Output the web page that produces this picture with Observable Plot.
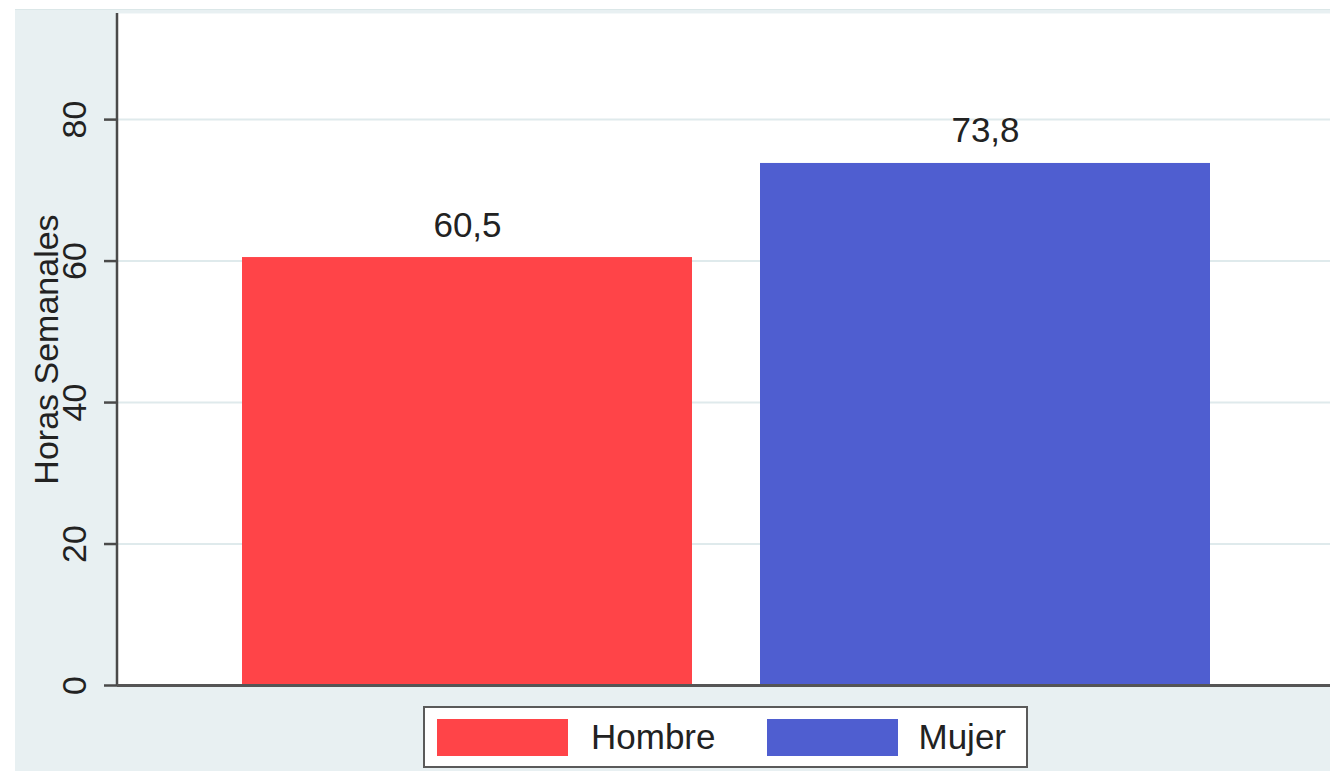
<!DOCTYPE html>
<html>
<head>
<meta charset="utf-8">
<script src="https://cdn.jsdelivr.net/npm/d3@7"></script>
<script src="https://cdn.jsdelivr.net/npm/@observablehq/plot@0.6"></script>
<style>
  html, body { margin: 0; padding: 0; background: #ffffff; }
  body { width: 1330px; height: 771px; position: relative; overflow: hidden; font-family: "Liberation Sans", Arial, sans-serif; }
  #panel { position: absolute; left: 15px; top: 9px; width: 1315px; height: 762px; background: #e8f0f2; border-top: 1px solid #dbe7e8; box-sizing: border-box; }
  #chart { position: absolute; left: 0; top: 0; }
  #chart svg { overflow: visible; }
  #legend { position: absolute; left: 408px; top: 696px; width: 605px; height: 62px; box-sizing: border-box; border: 2px solid #5a5a5a; background: #ffffff; display: flex; align-items: center; }
  .sw { width: 131px; height: 37px; display: inline-block; }
  .lab { font-size: 35px; color: #222; display: inline-block; }
</style>
</head>
<body>
<div id="panel">
  <div id="chart"></div>
  <div id="legend"></div>
</div>
<script>
const categories = ["Hombre", "Mujer"];
const horas = [60.5, 73.8];
const colors = ["#ff4448", "#4f5ed0"];
const yTicks = [0, 20, 40, 60, 80];
const yLabel = "Horas Semanales";

const data = categories.map((c, i) => ({sexo: c, horas: horas[i]}));
const fmt = v => v.toFixed(1).replace(".", ",");

// left axis line drawn along the frame's left edge
const leftAxisLine = (index, scales, values, dimensions) => {
  const {marginLeft, marginTop, height, marginBottom} = dimensions;
  const g = d3.create("svg:g");
  g.append("line")
    .attr("x1", marginLeft).attr("x2", marginLeft)
    .attr("y1", marginTop).attr("y2", height - marginBottom)
    .attr("stroke", "#4a4a4a").attr("stroke-width", 2.5);
  return g.node();
};

const plot = Plot.plot({
  width: 1315,
  height: 681,
  marginTop: 3,
  marginBottom: 6,
  marginLeft: 102,
  marginRight: 0,
  style: {background: "transparent", fontFamily: "Liberation Sans, Arial, sans-serif", color: "#222", overflow: "visible"},
  x: {domain: categories, paddingInner: 0.131, paddingOuter: 0.235, align: 0.51, axis: null},
  y: {domain: [0, 95]},
  color: {domain: categories, range: colors},
  marks: [
    Plot.frame({fill: "#ffffff", stroke: null}),
    Plot.gridY({ticks: [20, 40, 60, 80], stroke: "#dfeaec", strokeOpacity: 1, strokeWidth: 2}),
    Plot.barY(data, {x: "sexo", y: "horas", fill: "sexo"}),
    Plot.text(data, {x: "sexo", y: "horas", text: d => fmt(d.horas), lineAnchor: "bottom", dy: -21, fontSize: 35, fill: "#222"}),
    Plot.axisY({ticks: yTicks, tickSize: 13, tickFormat: () => "", label: null, stroke: "#4a4a4a", strokeWidth: 2.5}),
    leftAxisLine,
    Plot.text(yTicks, {y: d => d, text: d => String(d), frameAnchor: "left", rotate: -90, dx: -42, textAnchor: "middle", lineAnchor: "middle", fontSize: 34, fill: "#222"}),
    Plot.text([yLabel], {frameAnchor: "left", rotate: -90, dx: -70, textAnchor: "middle", lineAnchor: "middle", fontSize: 34, fill: "#222"}),
    Plot.ruleY([0], {stroke: "#555", strokeWidth: 3})
  ]
});
document.getElementById("chart").appendChild(plot);

const legend = document.getElementById("legend");
const gaps = [[12, 23], [52, 20]];
categories.forEach((c, i) => {
  const sw = document.createElement("span");
  sw.className = "sw";
  sw.style.background = colors[i];
  sw.style.marginLeft = gaps[i][0] + "px";
  const lab = document.createElement("span");
  lab.className = "lab";
  lab.textContent = c;
  lab.style.marginLeft = gaps[i][1] + "px";
  legend.appendChild(sw);
  legend.appendChild(lab);
});
</script>
</body>
</html>
